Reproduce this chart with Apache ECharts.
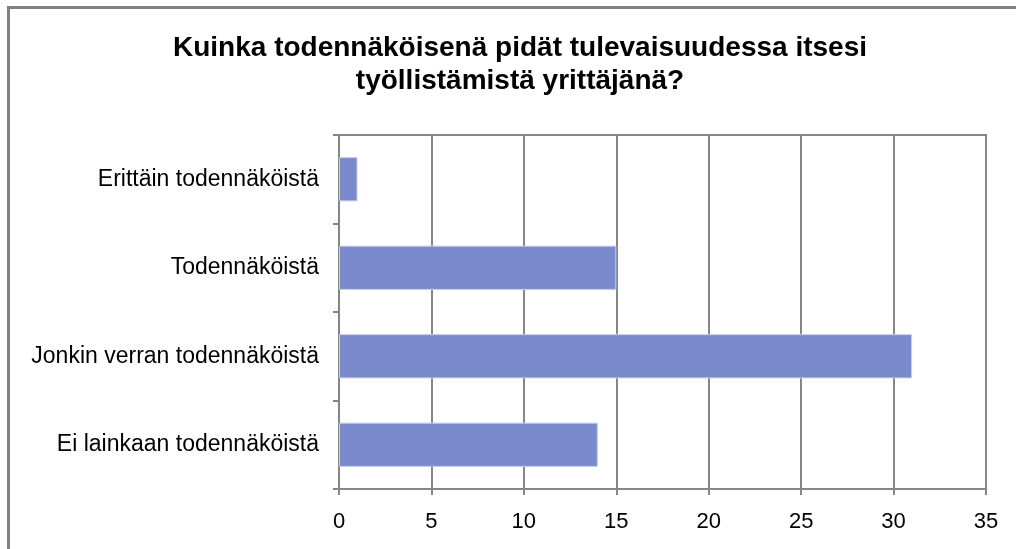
<!DOCTYPE html>
<html>
<head>
<meta charset="utf-8">
<script src="https://cdn.jsdelivr.net/npm/echarts@6/dist/echarts.min.js"></script>
<style>
  html, body { margin: 0; padding: 0; background: #fff; }
  .frame {
    position: absolute; left: 7px; top: 6px;
    width: 1100px; height: 600px;
    border-left: 3px solid #808080; border-top: 3px solid #808080;
  }
  #chart { position: absolute; left: 0; top: 0; width: 1016px; height: 549px; }
</style>
</head>
<body>
<div class="frame"></div>
<div id="chart"></div>
<script>
// vastausvaihtoehdot (ylhäältä alas) ja vastaajien määrät
const categories = ['Erittäin todennäköistä', 'Todennäköistä', 'Jonkin verran todennäköistä', 'Ei lainkaan todennäköistä']
const counts = [1, 15, 31, 14]
const xTicks = [0, 35, 5] // min, max, interval

const chart = echarts.init(document.getElementById('chart'))
chart.setOption({
  animation: false,
  title: {
    text: 'Kuinka todennäköisenä pidät tulevaisuudessa itsesi\ntyöllistämistä yrittäjänä?',
    left: 515,
    top: 27,
    textAlign: 'center',
    textStyle: {
      fontFamily: '"Liberation Sans", Arial, sans-serif',
      fontWeight: 'bold',
      fontSize: 28,
      lineHeight: 33,
      color: '#000'
    }
  },
  grid: {
    left: 339,
    right: 30,
    top: 135,
    bottom: 60,
    show: true,
    borderColor: '#868686',
    borderWidth: 2
  },
  xAxis: {
    type: 'value',
    min: xTicks[0],
    max: xTicks[1],
    interval: xTicks[2],
    axisLine: { show: true, lineStyle: { color: '#868686', width: 2 } },
    axisTick: { show: true, length: 6, lineStyle: { color: '#868686', width: 2 } },
    axisLabel: {
      margin: 22,
      fontSize: 22,
      color: '#000',
      fontFamily: '"Liberation Sans", Arial, sans-serif'
    },
    splitLine: { show: true, lineStyle: { color: '#868686', width: 2 } }
  },
  yAxis: {
    type: 'category',
    inverse: true,
    data: categories,
    axisLine: { show: true, lineStyle: { color: '#868686', width: 2 } },
    axisTick: { show: true, length: 6, lineStyle: { color: '#868686', width: 2 } },
    axisLabel: {
      margin: 20,
      fontSize: 23,
      color: '#000',
      fontFamily: '"Liberation Sans", Arial, sans-serif'
    },
    splitLine: { show: false }
  },
  series: [{
    type: 'bar',
    data: counts,
    barWidth: '50%',
    itemStyle: { color: '#7a8acd', borderColor: '#c7cdea', borderWidth: 1 }
  }]
})
</script>
</body>
</html>
